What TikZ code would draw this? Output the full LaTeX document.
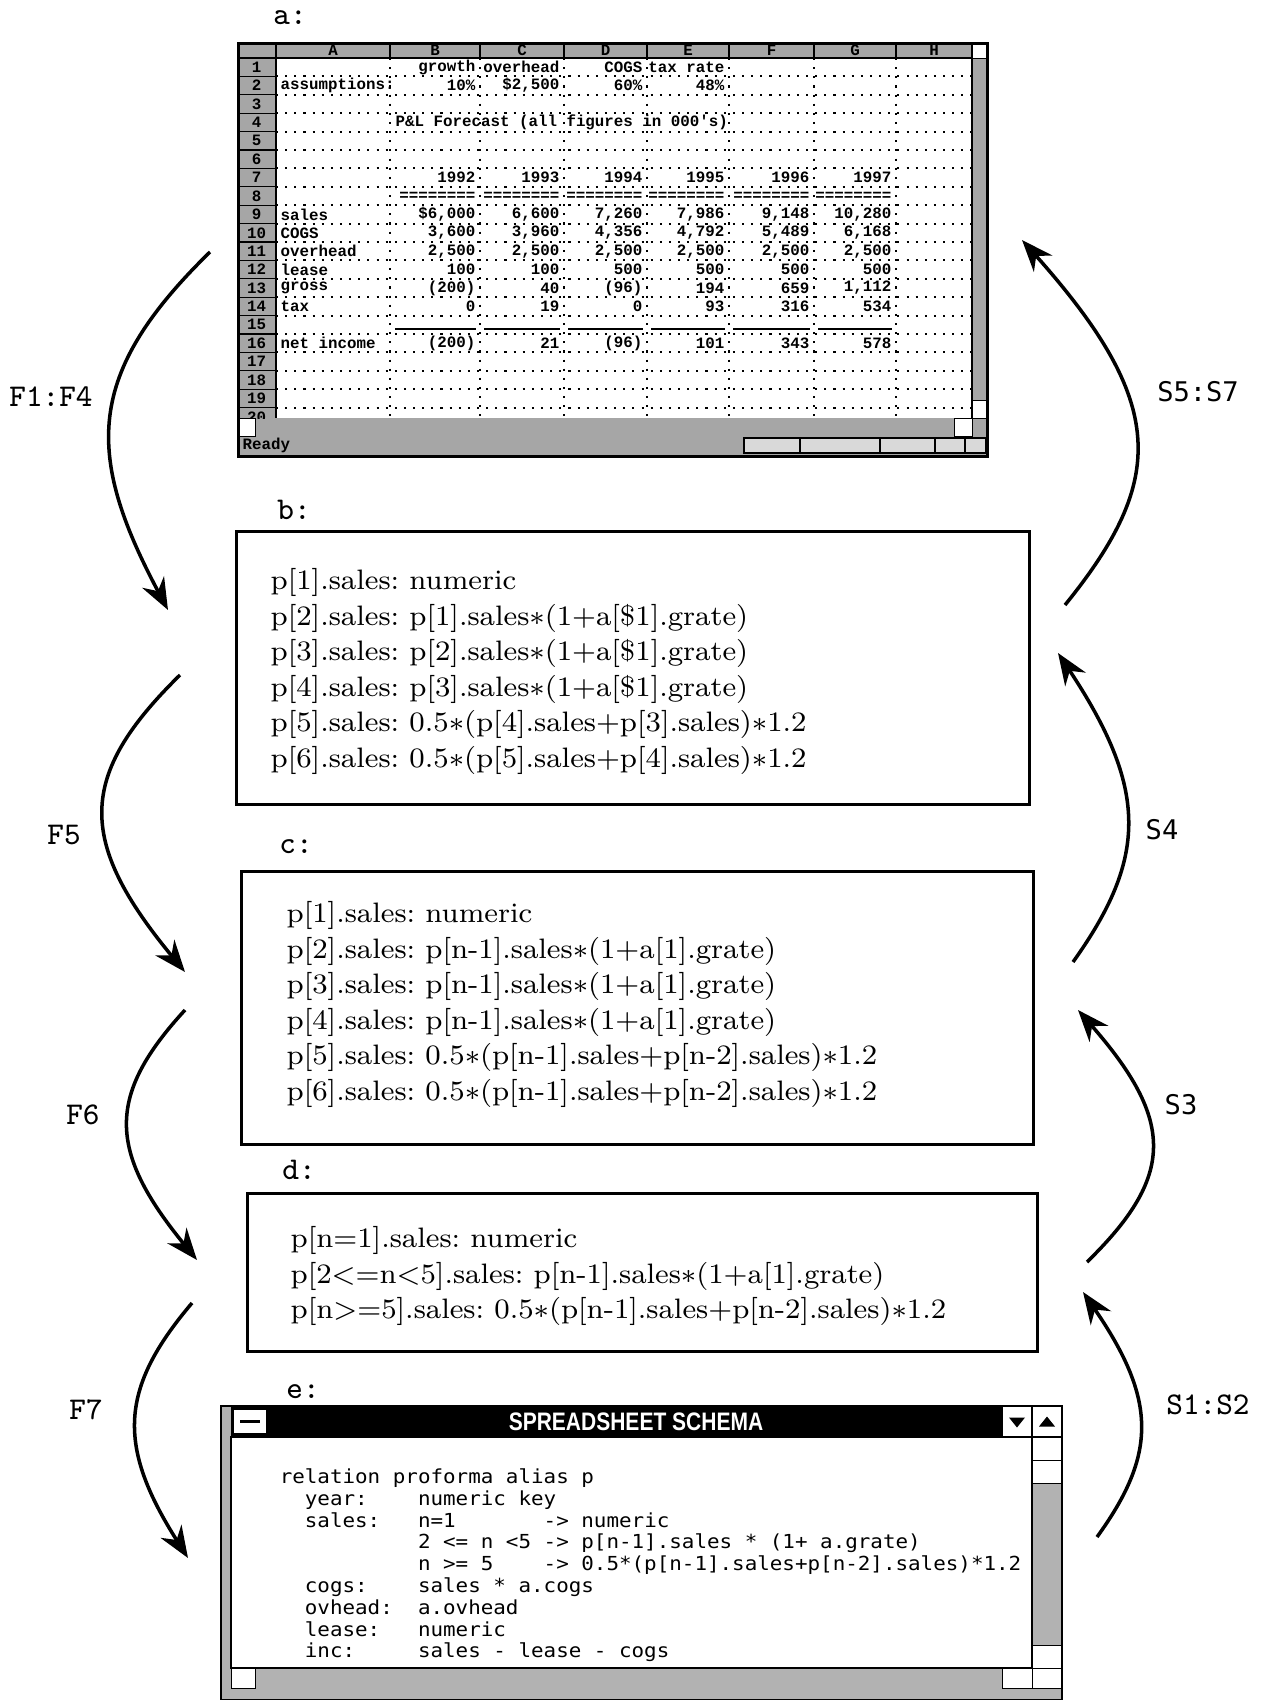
\documentclass[tikz,border=0pt]{standalone}
\usepackage{fontspec}
\usepackage{tikz}
\usetikzlibrary{arrows.meta, positioning, calc}

\newfontfamily\sheetfont{Liberation Mono}
\newfontfamily\schemafont{DejaVu Sans Mono}
\newfontfamily\titlefont{Liberation Sans}
\frenchspacing

\newcommand{\ml}{\ensuremath{\ast}}
% y of the middle of spreadsheet row #1
\newcommand{\rowy}[1]{-0.58-(#1-0.5)*0.184}

% one spreadsheet row: number, label, then columns B to G
\newcommand{\sheetrow}[8]{%
  \pgfmathsetmacro{\ry}{\rowy{#1}}%
  \node[cella] (r#1a) at (2.80,\ry) {#2};
  \node[cell] (r#1b) at (4.76,\ry) {#3};
  \node[cell] (r#1c) at (5.60,\ry) {#4};
  \node[cell] (r#1d) at (6.43,\ry) {#5};
  \node[cell] (r#1e) at (7.25,\ry) {#6};
  \node[cell] (r#1f) at (8.10,\ry) {#7};
  \node[cell] (r#1g) at (8.92,\ry) {#8};
}

\begin{document}
\begin{tikzpicture}
[
  every node/.style={inner sep=0pt},
  box/.style={draw, line width=0.8pt, anchor=north west},
  code/.style={anchor=north west, align=left, xscale=1.03, font=\fontsize{8}{10.1}\selectfont},
  schema/.style={anchor=north west, align=left, xscale=1.08, font=\schemafont\fontsize{5.5}{6.2}\selectfont},
  tag/.style={font=\ttfamily\fontsize{9}{10}\selectfont},
  stag/.style={font=\schemafont\fontsize{7.7}{9}\selectfont},
  cell/.style={anchor=east, font=\sheetfont\bfseries\fontsize{4.5}{5}\selectfont},
  cella/.style={cell, anchor=west},
  hd/.style={font=\sheetfont\bfseries\fontsize{4.5}{5}\selectfont},
  barfill/.style={fill=black!35},
  btn/.style={draw, fill=white, line width=0.4pt},
  flow/.style={line width=1pt, -{Stealth[length=9pt,width=7pt]}}
]
\useasboundingbox (0,0) rectangle (12.61,-17);

% spreadsheet a
\fill[barfill] (2.37,-0.42) rectangle (9.86,-0.58);
\fill[barfill] (2.37,-0.58) rectangle (2.76,-4.18);
\fill[barfill] (9.72,-0.58) rectangle (9.86,-4.18);
\fill[barfill] (2.37,-4.18) rectangle (9.86,-4.55);
\begin{scope}
\clip (2.37,-0.58) rectangle (9.72,-4.18);
\foreach \k in {0,...,20}
  \draw[dotted, line width=0.6pt] (2.76,{-0.58-\k*0.184}) -- (9.72,{-0.58-\k*0.184});
\foreach \k in {0,...,20}
  \draw[line width=0.3pt] (2.37,{-0.58-\k*0.184}) -- (2.76,{-0.58-\k*0.184});
\foreach \x in {3.90,4.80,5.64,6.47,7.29,8.14,8.96}
  \draw[dotted, line width=0.6pt] (\x,-0.58) -- (\x,-4.18);
\foreach \k in {1,...,20}
  \node[hd] (n\k) at (2.565,{\rowy{\k}}) {\k};
\end{scope}
\foreach \c/\x in {A/3.33,B/4.35,C/5.22,D/6.055,E/6.88,F/7.715,G/8.55,H/9.34}
  \node[hd] (h\c) at (\x,-0.50) {\c};
\foreach \x in {2.76,3.90,4.80,5.64,6.47,7.29,8.14,8.96,9.72}
  \draw[line width=0.4pt] (\x,-0.42) -- (\x,-0.58);
\draw[line width=0.6pt] (2.37,-0.58) -- (9.86,-0.58);
\draw[line width=0.6pt] (2.76,-0.58) -- (2.76,-4.18);
\draw[line width=0.6pt] (9.72,-0.42) -- (9.72,-4.18);

\sheetrow{1}{}{growth}{overhead}{COGS}{tax rate}{}{}
\sheetrow{2}{assumptions:}{10\%}{\$2,500}{60\%}{48\%}{}{}
\node[cella] (r4) at (3.95,{\rowy{4}}) {P\&L Forecast (all figures in 000's)};
\sheetrow{7}{}{1992}{1993}{1994}{1995}{1996}{1997}
\sheetrow{8}{}{========}{========}{========}{========}{========}{========}
\sheetrow{9}{sales}{\$6,000}{6,600}{7,260}{7,986}{9,148}{10,280}
\sheetrow{10}{COGS}{3,600}{3,960}{4,356}{4,792}{5,489}{6,168}
\sheetrow{11}{overhead}{2,500}{2,500}{2,500}{2,500}{2,500}{2,500}
\sheetrow{12}{lease}{100}{100}{500}{500}{500}{500}
\sheetrow{13}{gross}{(200)}{40}{(96)}{194}{659}{1,112}
\sheetrow{14}{tax}{0}{19}{0}{93}{316}{534}
\foreach \x/\y in {3.95/4.76,4.84/5.60,5.68/6.43,6.51/7.25,7.33/8.10,8.18/8.92}
  \draw[line width=0.7pt] (\x,{\rowy{15}-0.04}) -- (\y,{\rowy{15}-0.04});
\sheetrow{16}{net income}{(200)}{21}{(96)}{101}{343}{578}

% scroll bars and status line
\node[btn, anchor=north west, minimum width=0.14cm, minimum height=0.16cm] (vtop) at (9.72,-0.42) {};
\node[btn, anchor=north west, minimum width=0.14cm, minimum height=0.18cm] (vbot) at (9.72,-4.00) {};
\node[btn, anchor=north west, minimum width=0.18cm, minimum height=0.18cm] (hleft) at (2.37,-4.18) {};
\node[btn, anchor=north west, minimum width=0.18cm, minimum height=0.18cm] (hright) at (9.54,-4.18) {};
\node[cella] (ready) at (2.42,-4.455) {Ready};
\foreach \a/\b in {7.44/8.00,8.00/8.80,8.80/9.35,9.35/9.65,9.65/9.86}
  \draw[line width=0.4pt, fill=black!15] (\a,-4.38) rectangle (\b,-4.53);
\node[box, minimum width=7.49cm, minimum height=4.13cm] (sheet) at (2.37,-0.42) {};

% boxes b, c, d
\node[box, minimum width=7.93cm, minimum height=2.73cm] (b) at (2.35,-5.30) {};
\node[code] (tb) at ([xshift=0.35cm,yshift=-0.38cm]b.north west)
  {p[1].sales: numeric\\
   p[2].sales: p[1].sales\ml(1+a[\$1].grate)\\
   p[3].sales: p[2].sales\ml(1+a[\$1].grate)\\
   p[4].sales: p[3].sales\ml(1+a[\$1].grate)\\
   p[5].sales: 0.5\ml(p[4].sales+p[3].sales)\ml1.2\\
   p[6].sales: 0.5\ml(p[5].sales+p[4].sales)\ml1.2};

\node[box, minimum width=7.92cm, minimum height=2.73cm] (c) at (2.40,-8.70) {};
\node[code] (tc) at ([xshift=0.46cm,yshift=-0.31cm]c.north west)
  {p[1].sales: numeric\\
   p[2].sales: p[n-1].sales\ml(1+a[1].grate)\\
   p[3].sales: p[n-1].sales\ml(1+a[1].grate)\\
   p[4].sales: p[n-1].sales\ml(1+a[1].grate)\\
   p[5].sales: 0.5\ml(p[n-1].sales+p[n-2].sales)\ml1.2\\
   p[6].sales: 0.5\ml(p[n-1].sales+p[n-2].sales)\ml1.2};

\node[box, minimum width=7.90cm, minimum height=1.58cm] (d) at (2.46,-11.92) {};
\node[code] (td) at ([xshift=0.44cm,yshift=-0.34cm]d.north west)
  {p[n=1].sales: numeric\\
   p[2<=n<5].sales: p[n-1].sales\ml(1+a[1].grate)\\
   p[n>=5].sales: 0.5\ml(p[n-1].sales+p[n-2].sales)\ml1.2};

% window e
\fill[black!30] (2.21,-14.06) rectangle (10.62,-17.00);
\fill[white] (2.31,-14.37) rectangle (10.32,-16.68);
\fill[black] (2.31,-14.06) rectangle (10.02,-14.37);
\node[btn, minimum width=0.33cm, minimum height=0.25cm] (menu) at (2.50,-14.215) {};
\draw[line width=0.8pt] ([xshift=-0.1cm]menu.center) -- ([xshift=0.1cm]menu.center);
\node[font=\titlefont\bfseries\fontsize{7.2}{8}\selectfont, text=white, xscale=0.83] (title) at (6.36,-14.215) {SPREADSHEET SCHEMA};
\node[btn, minimum width=0.30cm, minimum height=0.31cm] (bmin) at (10.17,-14.215) {};
\node[btn, minimum width=0.30cm, minimum height=0.31cm] (bmax) at (10.47,-14.215) {};
\fill ([xshift=-0.08cm,yshift=0.04cm]bmin.center) -- ++(0.16,0) -- ++(-0.08,-0.1) -- cycle;
\fill ([xshift=-0.08cm,yshift=-0.05cm]bmax.center) -- ++(0.16,0) -- ++(-0.08,0.1) -- cycle;
\node[btn, anchor=north west, minimum width=0.30cm, minimum height=0.23cm] (vup) at (10.32,-14.37) {};
\node[btn, anchor=north west, minimum width=0.30cm, minimum height=0.23cm] (vpg) at (10.32,-14.60) {};
\node[btn, anchor=north west, minimum width=0.30cm, minimum height=0.23cm] (vdn) at (10.32,-16.45) {};
\node[btn, anchor=north west, minimum width=0.24cm, minimum height=0.20cm] (sleft) at (2.31,-16.68) {};
\node[btn, anchor=north west, minimum width=0.30cm, minimum height=0.20cm] (sright) at (10.02,-16.68) {};
\node[btn, anchor=north west, minimum width=0.30cm, minimum height=0.20cm] (scorner) at (10.32,-16.68) {};
\draw[line width=0.5pt] (2.31,-14.37) rectangle (10.32,-16.68);
\draw[line width=0.8pt] (2.21,-14.06) rectangle (10.62,-17.00);
\node[schema] (sch) at (2.79,-14.68)
  {relation proforma alias p\\
   \phantom{xx}year:~~~~numeric key\\
   \phantom{xx}sales:~~~n=1~~~~~~~->~numeric\\
   \phantom{xxxxxxxxxxx}2 <= n <5 -> p[n-1].sales * (1+ a.grate)\\
   \phantom{xxxxxxxxxxx}n >= 5~~~~-> 0.5*(p[n-1].sales+p[n-2].sales)*1.2\\
   \phantom{xx}cogs:~~~~sales * a.cogs\\
   \phantom{xx}ovhead:~~a.ovhead\\
   \phantom{xx}lease:~~~numeric\\
   \phantom{xx}inc:~~~~~sales - lease - cogs};

% panel letters
\node[tag] (la) at (2.90,-0.18) {a:};
\node[tag] (lb) at (2.94,-5.10) {b:};
\node[tag] (lc) at (2.96,-8.47) {c:};
\node[tag] (ld) at (2.99,-11.70) {d:};
\node[tag] (le) at (3.03,-13.92) {e:};

% forward steps
\coordinate (f1s) at (2.10,-2.52);
\coordinate (f1e) at (1.68,-6.10);
\coordinate (f5s) at (1.80,-6.75);
\coordinate (f5e) at (1.85,-9.72);
\coordinate (f6s) at (1.85,-10.10);
\coordinate (f6e) at (1.97,-12.60);
\coordinate (f7s) at (1.92,-13.03);
\coordinate (f7e) at (1.88,-15.58);
\draw[flow] (f1s) .. controls +(-1.25,-1.22) and +(-0.83,1.56) .. (f1e);
\draw[flow] (f5s) .. controls +(-1.03,-1.01) and +(-1.08,1.31) .. (f5e);
\draw[flow] (f6s) .. controls +(-0.78,-0.85) and +(-0.90,1.10) .. (f6e);
\draw[flow] (f7s) .. controls +(-0.73,-0.86) and +(-0.71,1.12) .. (f7e);
\node[tag] (lf1) at (0.51,-3.97) {F1:F4};
\node[tag] (lf5) at (0.64,-8.35) {F5};
\node[tag] (lf6) at (0.83,-11.15) {F6};
\node[tag] (lf7) at (0.86,-14.10) {F7};

% backward steps
\coordinate (s5s) at (10.65,-6.05);
\coordinate (s5e) at (10.22,-2.40);
\coordinate (s4s) at (10.73,-9.62);
\coordinate (s4e) at (10.58,-6.53);
\coordinate (s3s) at (10.87,-12.62);
\coordinate (s3e) at (10.78,-10.10);
\coordinate (s1s) at (10.97,-15.37);
\coordinate (s1e) at (10.83,-12.92);
\draw[flow] (s5s) .. controls +(1.02,1.26) and +(1.45,-1.63) .. (s5e);
\draw[flow] (s4s) .. controls +(0.75,1.05) and +(0.90,-1.36) .. (s4e);
\draw[flow] (s3s) .. controls +(0.88,0.86) and +(0.97,-1.11) .. (s3e);
\draw[flow] (s1s) .. controls +(0.60,0.83) and +(0.74,-1.08) .. (s1e);
\node[stag] (ls5) at (11.98,-3.92) {S5:S7};
\node[stag] (ls4) at (11.62,-8.30) {S4};
\node[stag] (ls3) at (11.81,-11.05) {S3};
\node[tag] (ls1) at (12.08,-14.05) {S1:S2};
\end{tikzpicture}
\end{document}
